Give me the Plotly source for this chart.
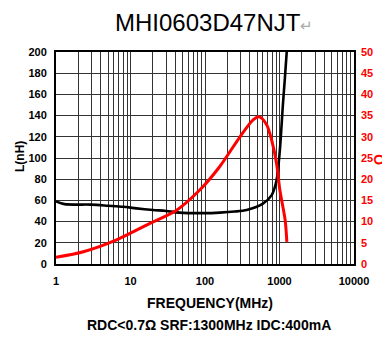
import plotly.graph_objects as go

# Inductance curve L (nH) vs frequency (MHz)
l_freq = [1, 1.3, 3, 5, 8, 12, 20, 30, 45, 100, 158, 250, 363, 600, 785, 913, 1010, 1110, 1180, 1250]
l_val = [59, 56.5, 56, 55, 54, 52.5, 51, 50, 48.5, 48, 48.5, 49.5, 51, 57, 65, 79, 107, 150, 175, 200]

# Quality factor Q vs frequency (MHz)
q_freq = [1, 2.33, 6.5, 18.3, 41.6, 85.6, 158, 295, 442, 536, 674, 785, 913, 1010, 1190, 1255]
q_val = [1.6, 2.9, 5.7, 9.6, 12.7, 17.5, 23, 30, 34, 34.7, 32.8, 29.2, 23.7, 17.5, 10.4, 5.2]

l_ticks = list(range(0, 201, 20))
q_ticks = list(range(0, 51, 5))
x_ticks = [1, 10, 100, 1000, 10000]

FONT = "Liberation Sans"
OFF = 8  # page body margin offset
PL, PR, PT, PB = 56, 354, 52, 264  # plot area in page pixels


def px(x):
    return (x - PL) / (PR - PL)


def py(y):
    return (PB - y) / (PB - PT)


fig = go.Figure()
fig.add_trace(go.Scatter(x=l_freq, y=l_val, mode="lines", line=dict(color="black", width=2.6, shape="spline", smoothing=0.8), yaxis="y", showlegend=False))
fig.add_trace(go.Scatter(x=q_freq, y=q_val, mode="lines", line=dict(color="#ff0000", width=3, shape="spline", smoothing=0.8), yaxis="y2", showlegend=False))

grid = "#333333"
W, H = 390, 340
fig.update_layout(
    width=W, height=H,
    margin=dict(l=PL - OFF, r=W + OFF - PR, t=PT - OFF, b=H + OFF - PB, autoexpand=False),
    paper_bgcolor="white", plot_bgcolor="white",
    xaxis=dict(
        type="log", range=[0, 4], tickvals=x_ticks, ticktext=[str(v) for v in x_ticks],
        showgrid=True, gridcolor=grid, gridwidth=1.4,
        minor=dict(dtick="D1", showgrid=True, gridcolor=grid, gridwidth=1.4),
        showline=True, linecolor="black", linewidth=2, mirror=True,
        ticks="", ticklabelstandoff=6,
        tickfont=dict(family=FONT, size=11, color="black", weight="bold"),
        zeroline=False,
    ),
    yaxis=dict(
        range=[0, 200], tickvals=l_ticks, showgrid=True, gridcolor=grid, gridwidth=1.4,
        showline=True, linecolor="black", linewidth=2, mirror=True,
        ticks="", ticklabelstandoff=5,
        tickfont=dict(family=FONT, size=11, color="black", weight="bold"),
        zeroline=False,
    ),
    yaxis2=dict(
        range=[0, 50], tickvals=q_ticks, overlaying="y", side="right", showgrid=False,
        ticks="", ticklabelstandoff=6,
        tickfont=dict(family=FONT, size=11, color="#ff0000", weight="bold"),
        zeroline=False,
    ),
    annotations=[
        dict(text="MHI0603D47NJT<span style='color:#aaaaaa;font-size:15px'>↵</span>",
             x=px(214), y=py(23), xanchor="center", yanchor="middle",
             font=dict(family=FONT, size=24, color="black")),
        dict(text="L(nH)", x=px(20), y=py(157), textangle=-90, xanchor="center", yanchor="middle",
             font=dict(family=FONT, size=12, color="black", weight="bold")),
        dict(text="Q", x=px(379), y=py(160), textangle=-90, xanchor="center", yanchor="middle",
             font=dict(family=FONT, size=14, color="#ff0000", weight="bold")),
        dict(text="FREQUENCY(MHz)", x=px(210), y=py(303), xanchor="center", yanchor="middle",
             font=dict(family=FONT, size=14, color="black", weight="bold")),
        dict(text="RDC<0.7Ω SRF:1300MHz IDC:400mA", x=px(209), y=py(325), xanchor="center", yanchor="middle",
             font=dict(family=FONT, size=14, color="black", weight="bold")),
    ],
)
for a in fig.layout.annotations:
    a.update(xref="paper", yref="paper", showarrow=False)

fig.write_html("out.html")
